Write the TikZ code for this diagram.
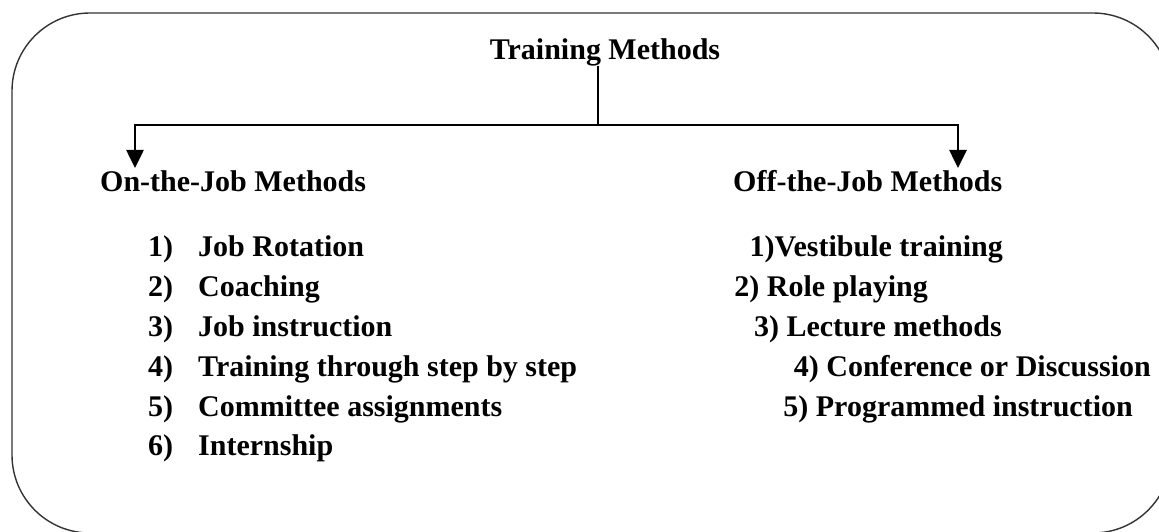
\documentclass[tikz,border=0pt]{standalone}
\usepackage{fontspec}
\setmainfont{Liberation Serif}
\usetikzlibrary{positioning, arrows.meta}
\tikzset{
  lbl/.style={font=\bfseries\fontsize{30}{36}\selectfont, inner sep=0pt},
  litem/.style={lbl, anchor=base west},
  ritem/.style={lbl, anchor=base east},
  link/.style={line width=2pt, line cap=rect},
  drop/.style={line width=2.6pt, -{Triangle[length=18pt,width=17pt]}},
}
\newcommand{\itemno}[1]{\makebox[50pt][l]{#1}}

\begin{document}
\begin{tikzpicture}[x=1pt, y=-1pt]
		\useasboundingbox[fill=white] (0,0) rectangle (1159,532);
		\draw[black!80, line width=1.4pt, rounded corners=78pt] (12,13) rectangle (1171,533);
		% heading and the two groups
		\node[lbl, anchor=base] (title) at (605,60) {Training Methods};
		\node[litem] (onjob) at (100,191) {On-the-Job Methods};
		\node[litem] (offjob) at (733,191) {Off-the-Job Methods};
		\coordinate (split) at (598,125);
		\coordinate (lcorner) at (135,125);
		\coordinate (rcorner) at (958,125);
		\coordinate (ldrop) at (135,168);
		\coordinate (rdrop) at (958,168);
		\draw[link] (split |- title.south) -- (split);
		\draw[link] (lcorner) -- (rcorner);
		\draw[drop] (lcorner) -- (ldrop);
		\draw[drop] (rcorner) -- (rdrop);
		% on the job
		\node[litem] (on1) at (148,256) {\itemno{1)}Job Rotation};
		\node[litem] (on2) at (148,296) {\itemno{2)}Coaching};
		\node[litem] (on3) at (148,336) {\itemno{3)}Job instruction};
		\node[litem] (on4) at (148,376) {\itemno{4)}Training through step by step};
		\node[litem] (on5) at (148,416) {\itemno{5)}Committee assignments};
		\node[litem] (on6) at (148,455) {\itemno{6)}Internship};
		% off the job
		\node[ritem] (off1) at (1003,256) {1)Vestibule training};
		\node[ritem] (off2) at (928,296) {2) Role playing};
		\node[ritem] (off3) at (1002,336) {3) Lecture methods};
		\node[ritem] (off4) at (1151,376) {4) Conference or Discussion};
		\node[ritem] (off5) at (1133,416) {5) Programmed instruction};
	\end{tikzpicture}
\end{document}
